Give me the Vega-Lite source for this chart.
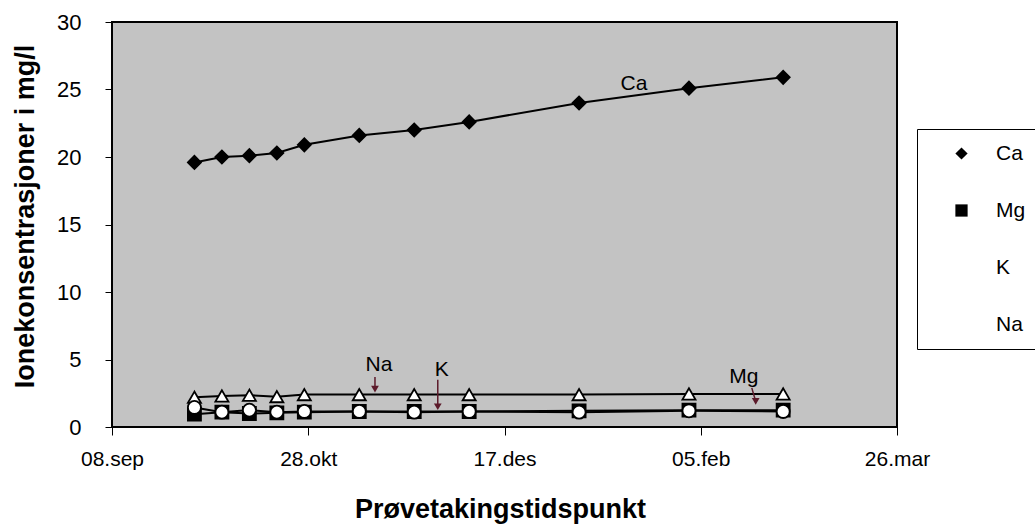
{
  "$schema": "https://vega.github.io/schema/vega-lite/v6.json",
  "width": 785,
  "height": 405,
  "autosize": "none",
  "padding": {"left": 112, "top": 22, "right": 138, "bottom": 104},
  "background": "white",
  "config": {
    "font": "Liberation Sans",
    "view": {"fill": "#c3c3c3", "stroke": "black", "strokeWidth": 2}
  },
  "datasets": {
    "ions": [
      {"date": "2003-09-29", "ion": "Mg", "value": 0.95},
      {"date": "2003-10-06", "ion": "Mg", "value": 1.1},
      {"date": "2003-10-13", "ion": "Mg", "value": 1.0},
      {"date": "2003-10-20", "ion": "Mg", "value": 1.05},
      {"date": "2003-10-27", "ion": "Mg", "value": 1.1},
      {"date": "2003-11-10", "ion": "Mg", "value": 1.15},
      {"date": "2003-11-24", "ion": "Mg", "value": 1.15},
      {"date": "2003-12-08", "ion": "Mg", "value": 1.15},
      {"date": "2004-01-05", "ion": "Mg", "value": 1.2},
      {"date": "2004-02-02", "ion": "Mg", "value": 1.25},
      {"date": "2004-02-26", "ion": "Mg", "value": 1.25},
      {"date": "2003-09-29", "ion": "Ca", "value": 19.6},
      {"date": "2003-10-06", "ion": "Ca", "value": 20.0},
      {"date": "2003-10-13", "ion": "Ca", "value": 20.1},
      {"date": "2003-10-20", "ion": "Ca", "value": 20.3},
      {"date": "2003-10-27", "ion": "Ca", "value": 20.9},
      {"date": "2003-11-10", "ion": "Ca", "value": 21.6},
      {"date": "2003-11-24", "ion": "Ca", "value": 22.0},
      {"date": "2003-12-08", "ion": "Ca", "value": 22.6},
      {"date": "2004-01-05", "ion": "Ca", "value": 24.0},
      {"date": "2004-02-02", "ion": "Ca", "value": 25.1},
      {"date": "2004-02-26", "ion": "Ca", "value": 25.9},
      {"date": "2003-09-29", "ion": "Na", "value": 2.2},
      {"date": "2003-10-06", "ion": "Na", "value": 2.3},
      {"date": "2003-10-13", "ion": "Na", "value": 2.35},
      {"date": "2003-10-20", "ion": "Na", "value": 2.25},
      {"date": "2003-10-27", "ion": "Na", "value": 2.4},
      {"date": "2003-11-10", "ion": "Na", "value": 2.4},
      {"date": "2003-11-24", "ion": "Na", "value": 2.4},
      {"date": "2003-12-08", "ion": "Na", "value": 2.4},
      {"date": "2004-01-05", "ion": "Na", "value": 2.4},
      {"date": "2004-02-02", "ion": "Na", "value": 2.45},
      {"date": "2004-02-26", "ion": "Na", "value": 2.45},
      {"date": "2003-09-29", "ion": "K", "value": 1.45},
      {"date": "2003-10-06", "ion": "K", "value": 1.1},
      {"date": "2003-10-13", "ion": "K", "value": 1.25},
      {"date": "2003-10-20", "ion": "K", "value": 1.1},
      {"date": "2003-10-27", "ion": "K", "value": 1.15},
      {"date": "2003-11-10", "ion": "K", "value": 1.15},
      {"date": "2003-11-24", "ion": "K", "value": 1.1},
      {"date": "2003-12-08", "ion": "K", "value": 1.15},
      {"date": "2004-01-05", "ion": "K", "value": 1.1},
      {"date": "2004-02-02", "ion": "K", "value": 1.2},
      {"date": "2004-02-26", "ion": "K", "value": 1.15}
    ],
    "notes": [
      {"date": "2004-01-19", "value": 25.4, "label": "Ca"},
      {"date": "2003-11-15", "value": 4.6, "label": "Na"},
      {"date": "2003-12-01", "value": 4.2, "label": "K"},
      {"date": "2004-02-16", "value": 3.7, "label": "Mg"}
    ],
    "arrows": [
      {"date": "2003-11-14", "date2": "2003-11-14", "value": 3.7, "value2": 2.8},
      {"date": "2003-11-30", "date2": "2003-11-30", "value": 3.5, "value2": 1.5},
      {"date": "2004-02-18", "date2": "2004-02-19", "value": 2.9, "value2": 1.9}
    ]
  },
  "encoding": {
    "x": {
      "field": "date",
      "type": "temporal",
      "scale": {
        "type": "utc",
        "domain": [
          {"year": 2003, "month": 9, "date": 8, "utc": true},
          {"year": 2004, "month": 3, "date": 26, "utc": true}
        ]
      },
      "axis": {
        "values": [
          {"year": 2003, "month": 9, "date": 8, "utc": true},
          {"year": 2003, "month": 10, "date": 28, "utc": true},
          {"year": 2003, "month": 12, "date": 17, "utc": true},
          {"year": 2004, "month": 2, "date": 5, "utc": true},
          {"year": 2004, "month": 3, "date": 26, "utc": true}
        ],
        "labelExpr": "utcFormat(datum.value, '%d') + '.' + ['jan','feb','mar','apr','mai','jun','jul','aug','sep','okt','nov','des'][utcmonth(datum.value)]",
        "title": "Prøvetakingstidspunkt",
        "titleFontSize": 27,
        "titleFontWeight": "bold",
        "titleColor": "black",
        "titleX": 388,
        "titleY": 90,
        "titleAlign": "center",
        "titleBaseline": "alphabetic",
        "labelFontSize": 21,
        "labelColor": "black",
        "labelPadding": 13,
        "labelFlush": false,
        "labelOverlap": false,
        "tickSize": 8,
        "tickColor": "black",
        "tickWidth": 1,
        "domain": false,
        "grid": false
      }
    },
    "y": {
      "field": "value",
      "type": "quantitative",
      "scale": {"domain": [0, 30], "nice": false},
      "axis": {
        "values": [0, 5, 10, 15, 20, 25, 30],
        "title": "Ionekonsentrasjoner i mg/l",
        "titleFontSize": 27,
        "titleFontWeight": "bold",
        "titleColor": "black",
        "titleX": -87,
        "titleY": 194,
        "titleAngle": 270,
        "titleAlign": "center",
        "titleBaseline": "middle",
        "labelFontSize": 22,
        "labelColor": "black",
        "labelPadding": 24,
        "tickSize": 7,
        "tickColor": "black",
        "domain": false,
        "grid": false
      }
    }
  },
  "layer": [
    {
      "data": {"name": "ions"},
      "mark": {"type": "line", "color": "black", "strokeWidth": 2},
      "encoding": {"detail": {"field": "ion", "type": "nominal"}}
    },
    {
      "data": {"name": "ions"},
      "mark": {"type": "point", "filled": true, "stroke": "black", "strokeWidth": 1.8, "opacity": 1, "size": 170},
      "encoding": {
        "shape": {
          "field": "ion",
          "type": "nominal",
          "scale": {"domain": ["Ca", "Mg", "K", "Na"], "range": ["diamond", "square", "circle", "triangle-up"]},
          "legend": {
            "orient": "none",
            "legendX": 805,
            "legendY": 107,
            "title": null,
            "fillColor": "white",
            "strokeColor": "black",
            "padding": 14,
            "symbolOffset": 20,
            "rowPadding": 35,
            "labelFontSize": 21,
            "labelColor": "black",
            "labelOffset": 24,
            "symbolSize": 150,
            "symbolStrokeColor": "black",
            "symbolStrokeWidth": 1.8,
            "symbolOpacity": 1
          }
        },
        "fill": {
          "field": "ion",
          "type": "nominal",
          "scale": {"domain": ["Ca", "Mg", "K", "Na"], "range": ["black", "black", "white", "white"]},
          "legend": null
        }
      }
    },
    {
      "data": {"name": "notes"},
      "mark": {"type": "text", "fontSize": 21, "color": "black", "align": "center", "baseline": "middle"},
      "encoding": {"text": {"field": "label", "type": "nominal"}}
    },
    {
      "data": {"name": "arrows"},
      "mark": {"type": "rule", "color": "#5c1a2a", "strokeWidth": 1.5},
      "encoding": {
        "x2": {"field": "date2"},
        "y2": {"field": "value2"}
      }
    },
    {
      "data": {"name": "arrows"},
      "mark": {"type": "point", "shape": "triangle-down", "filled": true, "color": "#5c1a2a", "size": 60, "opacity": 1},
      "encoding": {
        "x": {"field": "date2", "type": "temporal"},
        "y": {"field": "value2", "type": "quantitative"}
      }
    }
  ]
}
